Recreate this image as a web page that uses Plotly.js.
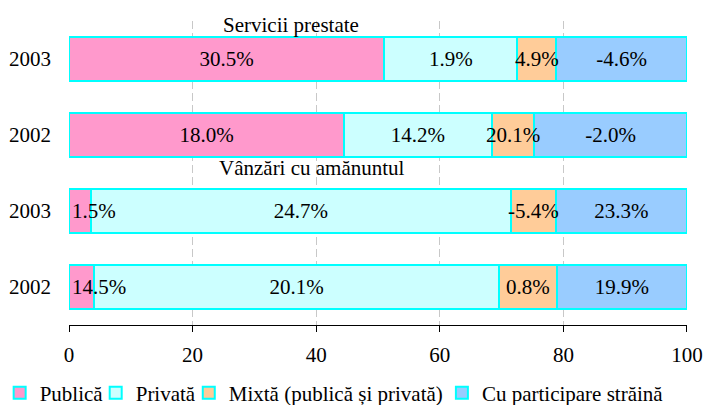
<!DOCTYPE html>
<html>
<head>
<meta charset="utf-8">
<script src="https://cdn.plot.ly/plotly-3.0.1.min.js"></script>
<style>
html,body{margin:0;padding:0;background:#fff;}
#chart{width:704px;height:405px;}
</style>
</head>
<body>
<div id="chart"></div>
<script>
// ---- data ----
const rowIndex = [0, 1, 2, 3];
const years = ['2003', '2002', '2003', '2002'];
const groupLabels = ['Servicii prestate', 'Vânzări cu amănuntul'];
const seriesNames = ['Publică', 'Privată', 'Mixtă (publică și privată)', 'Cu participare străină'];

const publica = [51.05, 44.5, 3.5, 4.1];
const privata = [21.5, 23.9, 68.0, 65.5];
const mixta   = [6.3, 6.9, 7.3, 9.3];
const straina = [21.15, 24.7, 21.2, 21.1];

const publicaLbl = ['30.5%', '18.0%', '1.5%', '14.5%'];
const privataLbl = ['1.9%', '14.2%', '24.7%', '20.1%'];
const mixtaLbl   = ['4.9%', '20.1%', '-5.4%', '0.8%'];
const strainaLbl = ['-4.6%', '-2.0%', '23.3%', '19.9%'];

const xTicks = [0, 20, 40, 60, 80, 100];

// ---- styles ----
const FONT = 'Liberation Serif, Times New Roman, serif';
const colors = ['#FF99CC', '#CCFFFF', '#FFCC99', '#99CCFF'];
const edge = '#00FFFF';
const legendIds = ['legend', 'legend2', 'legend3', 'legend4'];
const legendX = [-0.1122, 0.0432, 0.1938, 0.6034];
const legendY = -0.2237;

const seriesVals = [publica, privata, mixta, straina];
const seriesLbls = [publicaLbl, privataLbl, mixtaLbl, strainaLbl];

// coloured bars (bottom subplot)
const barTraces = seriesVals.map((vals, k) => ({
  type: 'bar',
  orientation: 'h',
  name: seriesNames[k],
  x: vals,
  y: rowIndex,
  xaxis: 'x', yaxis: 'y',
  legend: legendIds[k],
  marker: {color: colors[k], line: {color: edge, width: 2}},
  hoverinfo: 'none'
}));

// label layer (overlaid subplot, transparent bars stacked the same way)
function textTrace(k, idx, anchor) {
  const pick = a => idx.map(i => a[i]);
  return {
    type: 'bar',
    orientation: 'h',
    name: seriesNames[k],
    x: pick(seriesVals[k]),
    y: pick(rowIndex),
    xaxis: 'x2', yaxis: 'y2',
    text: pick(seriesLbls[k]),
    textposition: 'inside',
    insidetextanchor: anchor,
    textangle: 0,
    constraintext: 'none',
    cliponaxis: false,
    insidetextfont: {family: FONT, size: 21, color: '#000'},
    marker: {color: 'rgba(0,0,0,0)', line: {width: 0}},
    showlegend: false,
    hoverinfo: 'none'
  };
}
const textTraces = [
  textTrace(0, [0, 1], 'middle'),
  textTrace(0, [2, 3], 'start'),
  textTrace(1, rowIndex, 'middle'),
  textTrace(2, rowIndex, 'middle'),
  textTrace(3, rowIndex, 'middle')
];

const yRange = [3.5, -0.5];
const xRange = [0, 100.001];

const layout = {
  width: 704,
  height: 405,
  margin: {l: 69, r: 17, t: 21, b: 80, autoexpand: false},
  paper_bgcolor: '#fff',
  plot_bgcolor: '#fff',
  barmode: 'stack',
  bargap: 0.41,
  font: {family: FONT, size: 21, color: '#000'},
  showlegend: true,
  xaxis: {
    range: xRange,
    tickvals: xTicks,
    showgrid: true,
    gridcolor: '#C8C8C8',
    gridwidth: 1,
    griddash: '8px,4px',
    zeroline: false,
    showline: true,
    linecolor: '#000',
    linewidth: 1,
    ticks: 'outside',
    ticklen: 6,
    tickcolor: '#000',
    ticklabelstandoff: 5,
    tickfont: {family: FONT, size: 21, color: '#000'},
    fixedrange: true
  },
  yaxis: {
    range: yRange,
    tickvals: rowIndex,
    ticktext: years,
    showgrid: false,
    zeroline: false,
    showline: false,
    ticks: '',
    ticklabelstandoff: 17,
    tickfont: {family: FONT, size: 21, color: '#000'},
    fixedrange: true
  },
  xaxis2: {overlaying: 'x', range: xRange, visible: false, fixedrange: true},
  yaxis2: {overlaying: 'y', range: yRange, visible: false, fixedrange: true},
  annotations: [
    {text: groupLabels[0], xref: 'x', yref: 'y', x: 35.9, y: -0.45, showarrow: false,
     font: {family: FONT, size: 21, color: '#000'}, xanchor: 'center', yanchor: 'middle'},
    {text: groupLabels[1], xref: 'x', yref: 'y', x: 39.3, y: 1.44, showarrow: false,
     font: {family: FONT, size: 21, color: '#000'}, xanchor: 'center', yanchor: 'middle'}
  ]
};

legendIds.forEach((id, k) => {
  layout[id] = {
    orientation: 'h',
    x: legendX[k], xanchor: 'left',
    y: legendY, yanchor: 'middle',
    font: {family: FONT, size: 21, color: '#000'},
    bgcolor: 'rgba(0,0,0,0)',
    itemclick: false
  };
});

Plotly.newPlot('chart', barTraces.concat(textTraces), layout, {displayModeBar: false, staticPlot: true});
</script>
</body>
</html>
